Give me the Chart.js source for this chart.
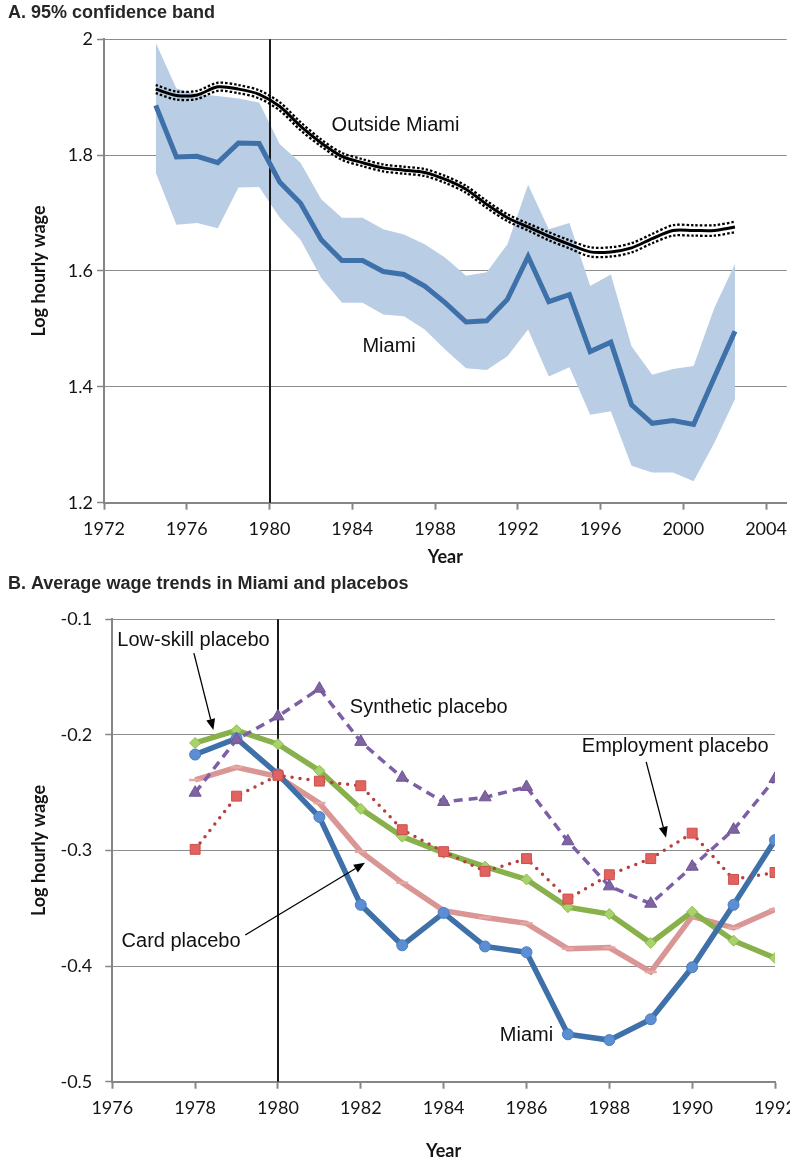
<!DOCTYPE html>
<html>
<head>
<meta charset="utf-8">
<title>Miami wages</title>
<script src="https://cdn.jsdelivr.net/npm/chart.js@4.4.1/dist/chart.umd.min.js"></script>
<style>
  html, body { margin: 0; padding: 0; background: #fff; overflow: hidden; width: 790px; height: 1163px; }
  .panel { position: absolute; left: 0; width: 790px; }
  #wrapA { top: 0; height: 570px; }
  #wrapB { top: 570px; height: 593px; }
</style>
</head>
<body>
<div class="panel" id="wrapA"><canvas id="chartA"></canvas></div>
<div class="panel" id="wrapB"><canvas id="chartB"></canvas></div>
<script>
// ---------- Panel A: Miami log wage with 95% band vs. outside Miami ----------
const yearsA = [1974.5, 1975.5, 1976.5, 1977.5, 1978.5, 1979.5, 1980.5, 1981.5, 1982.5, 1983.5,
                1984.5, 1985.5, 1986.5, 1987.5, 1988.5, 1989.5, 1990.5, 1991.5, 1992.5, 1993.5,
                1994.5, 1995.5, 1996.5, 1997.5, 1998.5, 1999.5, 2000.5, 2001.5, 2002.5];
const miamiA = [1.886, 1.797, 1.798, 1.787, 1.821, 1.820, 1.753, 1.717, 1.654, 1.618,
                1.618, 1.599, 1.594, 1.574, 1.545, 1.512, 1.514, 1.551, 1.625, 1.547,
                1.559, 1.461, 1.477, 1.369, 1.337, 1.342, 1.335, 1.416, 1.496];
const miamiUpper = [1.994, 1.915, 1.905, 1.902, 1.898, 1.891, 1.819, 1.787, 1.724, 1.692,
                    1.692, 1.672, 1.663, 1.646, 1.623, 1.592, 1.598, 1.646, 1.749, 1.672,
                    1.683, 1.574, 1.594, 1.470, 1.421, 1.431, 1.436, 1.536, 1.612];
const miamiLower = [1.770, 1.680, 1.683, 1.674, 1.744, 1.745, 1.692, 1.654, 1.588, 1.545,
                    1.545, 1.525, 1.522, 1.499, 1.464, 1.432, 1.429, 1.453, 1.499, 1.418,
                    1.434, 1.352, 1.358, 1.264, 1.252, 1.252, 1.237, 1.303, 1.379];
const outsideA = [1.914, 1.903, 1.904, 1.918, 1.914, 1.905, 1.884, 1.850, 1.821, 1.798,
                  1.787, 1.778, 1.774, 1.770, 1.758, 1.741, 1.715, 1.692, 1.676, 1.660,
                  1.646, 1.633, 1.633, 1.640, 1.656, 1.670, 1.670, 1.670, 1.676];
const outsideUpper = [1.921, 1.910, 1.911, 1.925, 1.921, 1.912, 1.891, 1.857, 1.827, 1.804,
                      1.793, 1.784, 1.780, 1.776, 1.764, 1.747, 1.721, 1.698, 1.682, 1.667,
                      1.653, 1.641, 1.641, 1.648, 1.664, 1.679, 1.679, 1.679, 1.685];
const outsideLower = [1.907, 1.896, 1.897, 1.911, 1.907, 1.898, 1.877, 1.843, 1.815, 1.792,
                      1.781, 1.772, 1.768, 1.764, 1.752, 1.735, 1.709, 1.686, 1.670, 1.653,
                      1.639, 1.625, 1.625, 1.632, 1.648, 1.661, 1.661, 1.661, 1.667];
const xTicksA = [1972, 1976, 1980, 1984, 1988, 1992, 1996, 2000, 2004];
const xTickLabelsA = ['1972', '1976', '1980', '1984', '1988', '1992', '1996', '2000', '2004'];
const yTicksA = [1.2, 1.4, 1.6, 1.8, 2.0];
const yTickLabelsA = ['1.2', '1.4', '1.6', '1.8', '2'];

// ---------- Panel B: Miami and placebo wage trends ----------
const yearsB = [1978, 1979, 1980, 1981, 1982, 1983, 1984, 1985, 1986, 1987, 1988, 1989, 1990, 1991, 1992];
const miamiB      = [-0.217, -0.203, -0.234, -0.271, -0.347, -0.382, -0.354, -0.383, -0.388, -0.459, -0.464, -0.446, -0.401, -0.347, -0.291];
const lowSkillB   = [-0.207, -0.196, -0.208, -0.231, -0.264, -0.288, -0.302, -0.314, -0.325, -0.349, -0.355, -0.380, -0.353, -0.378, -0.393];
const cardB       = [-0.239, -0.228, -0.236, -0.259, -0.301, -0.328, -0.352, -0.358, -0.363, -0.385, -0.384, -0.405, -0.357, -0.367, -0.351];
const employmentB = [-0.299, -0.253, -0.235, -0.240, -0.244, -0.282, -0.301, -0.318, -0.307, -0.342, -0.321, -0.307, -0.285, -0.325, -0.319];
const syntheticB  = [-0.250, -0.204, -0.184, -0.160, -0.206, -0.237, -0.258, -0.254, -0.245, -0.292, -0.331, -0.346, -0.314, -0.282, -0.238];
const xTicksB = [1976, 1978, 1980, 1982, 1984, 1986, 1988, 1990, 1992];
const xTickLabelsB = ['1976', '1978', '1980', '1982', '1984', '1986', '1988', '1990', '1992'];
const yTicksB = [-0.5, -0.4, -0.3, -0.2, -0.1];
const yTickLabelsB = ['-0.5', '-0.4', '-0.3', '-0.2', '-0.1'];

const boatliftYear = 1980;

// ---------- shared styling ----------
const tickFont = { family: 'Lato, "Open Sans", sans-serif', size: 18 };
const axisTitleFont = { family: 'Lato, "Open Sans", sans-serif', size: 18, weight: 'bold' };
const labelFont = '20px "Liberation Sans", Arial, sans-serif';
const headFont = 'bold 18px "Liberation Sans", Arial, sans-serif';
const axisGrey = '#868686';
const gridGrey = '#8c8c8c';
const textColor = '#141414';

const pts = (xs, ys) => xs.map((x, i) => ({ x, y: ys[i] }));

function drawArrow(ctx, x1, y1, x2, y2) {
  const ang = Math.atan2(y2 - y1, x2 - x1);
  const head = 11, half = 4.5;
  const bx = x2 - head * Math.cos(ang), by = y2 - head * Math.sin(ang);
  ctx.save();
  ctx.strokeStyle = '#000';
  ctx.fillStyle = '#000';
  ctx.lineWidth = 1.3;
  ctx.beginPath();
  ctx.moveTo(x1, y1);
  ctx.lineTo(bx, by);
  ctx.stroke();
  ctx.beginPath();
  ctx.moveTo(x2, y2);
  ctx.lineTo(bx - half * Math.sin(ang), by + half * Math.cos(ang));
  ctx.lineTo(bx + half * Math.sin(ang), by - half * Math.cos(ang));
  ctx.closePath();
  ctx.fill();
  ctx.restore();
}

// Heading, the 1980 marker line, text labels and arrows for one panel
function makeDecor(cfg) {
  function eventLine(chart) {
    const { ctx, chartArea, scales } = chart;
    const x = Math.round(scales.x.getPixelForValue(boatliftYear));
    ctx.save();
    ctx.strokeStyle = '#1a1a1a';
    ctx.lineWidth = 2;
    ctx.beginPath();
    ctx.moveTo(x, chartArea.top);
    ctx.lineTo(x, chartArea.bottom);
    ctx.stroke();
    ctx.restore();
  }
  return {
    id: 'decor' + cfg.key,
    beforeDatasetsDraw(chart) {
      if (cfg.lineAfterIndex == null) eventLine(chart);
    },
    afterDatasetDraw(chart, args) {
      if (cfg.lineAfterIndex != null && args.index === cfg.lineAfterIndex) eventLine(chart);
    },
    afterDraw(chart) {
      const { ctx, scales } = chart;
      ctx.save();
      ctx.fillStyle = '#262626';
      ctx.font = headFont;
      ctx.textAlign = 'left';
      ctx.textBaseline = 'middle';
      ctx.fillText(cfg.heading, 8, cfg.headingY);
      ctx.fillStyle = '#111';
      ctx.font = labelFont;
      ctx.textAlign = 'center';
      cfg.labels.forEach(l => {
        ctx.fillText(l.text, scales.x.getPixelForValue(l.x), scales.y.getPixelForValue(l.y));
      });
      ctx.restore();
      (cfg.arrows || []).forEach(a => {
        drawArrow(ctx,
          scales.x.getPixelForValue(a.from[0]), scales.y.getPixelForValue(a.from[1]),
          scales.x.getPixelForValue(a.to[0]), scales.y.getPixelForValue(a.to[1]));
      });
    }
  };
}

function axes(o) {
  return {
    x: {
      type: 'linear', min: o.xMin, max: o.xMax,
      afterBuildTicks: s => { s.ticks = o.xTicks.map(v => ({ value: v })); },
      ticks: { callback: (v, i) => o.xLabels[i], font: tickFont, color: textColor, padding: 9, maxRotation: 0, autoSkip: false },
      grid: { drawOnChartArea: false, drawTicks: true, tickLength: 7, tickWidth: 2, tickColor: axisGrey },
      border: { display: true, color: axisGrey, width: 2 },
      title: { display: true, text: 'Year', font: axisTitleFont, color: textColor, padding: { top: 0, bottom: o.yearPad } },
      afterFit: s => { s.height = o.xHeight; s.paddingLeft = 0; s.paddingRight = 0; }
    },
    y: {
      type: 'linear', min: o.yMin, max: o.yMax,
      afterBuildTicks: s => { s.ticks = o.yTicks.map(v => ({ value: v })); },
      ticks: { callback: (v, i) => o.yLabels[i], font: tickFont, color: textColor, padding: o.yPad },
      grid: { color: gridGrey, lineWidth: 1, tickLength: 7, tickWidth: 1.5, tickColor: axisGrey },
      border: { display: true, color: axisGrey, width: 2 },
      title: { display: true, text: 'Log hourly wage', font: axisTitleFont, color: textColor, padding: { top: 28.7, bottom: 0 } },
      afterFit: s => { s.width = o.yWidth; s.paddingTop = 0; s.paddingBottom = 0; }
    }
  };
}

const commonOpts = {
  responsive: true,
  maintainAspectRatio: false,
  animation: false,
  events: [],
  plugins: { legend: { display: false }, tooltip: { enabled: false } }
};

// ---------- Chart A ----------
new Chart(document.getElementById('chartA'), {
  type: 'line',
  data: {
    datasets: [
      { data: pts(yearsA, outsideA), borderColor: '#000', borderWidth: 3, tension: 0.3, pointRadius: 0, fill: false },
      { data: pts(yearsA, outsideUpper), borderColor: '#000', borderWidth: 2.3, borderDash: [2.5, 2], tension: 0.3, pointRadius: 0, fill: false },
      { data: pts(yearsA, outsideLower), borderColor: '#000', borderWidth: 2.3, borderDash: [2.5, 2], tension: 0.3, pointRadius: 0, fill: false },
      { data: pts(yearsA, miamiA), borderColor: '#3E70AA', borderWidth: 5, tension: 0, pointRadius: 0, fill: false },
      { data: pts(yearsA, miamiUpper), borderColor: 'rgba(0,0,0,0)', borderWidth: 0.01, backgroundColor: '#B9CDE5', pointRadius: 0, tension: 0, fill: '+1' },
      { data: pts(yearsA, miamiLower), borderColor: 'rgba(0,0,0,0)', borderWidth: 0.01, pointRadius: 0, tension: 0, fill: false }
    ]
  },
  options: Object.assign({}, commonOpts, {
    layout: { padding: { top: 39.3, right: 3.3, left: 0, bottom: 0 } },
    scales: axes({
      xMin: 1972, xMax: 2005, xTicks: xTicksA, xLabels: xTickLabelsA, xHeight: 67.3, yearPad: 2.3,
      yMin: 1.2, yMax: 2.0, yTicks: yTicksA, yLabels: yTickLabelsA, yPad: 4, yWidth: 104
    })
  }),
  plugins: [makeDecor({
    key: 'A',
    heading: 'A. 95% confidence band',
    headingY: 13.5,
    lineAfterIndex: 4,
    labels: [
      { text: 'Outside Miami', x: 1986.09, y: 1.851 },
      { text: 'Miami', x: 1985.78, y: 1.4695 }
    ]
  })]
});

// ---------- Chart B ----------
new Chart(document.getElementById('chartB'), {
  type: 'line',
  data: {
    datasets: [
      { label: 'Synthetic placebo', data: pts(yearsB, syntheticB), borderColor: '#7D5FA8', borderWidth: 3.5, borderDash: [9, 6],
        pointStyle: 'triangle', pointRadius: 7, pointBackgroundColor: '#8064A2', pointBorderColor: '#6E5494', pointBorderWidth: 1, tension: 0, fill: false },
      { label: 'Employment placebo', data: pts(yearsB, employmentB), borderColor: '#B4413E', borderWidth: 3.5, borderDash: [0, 8], borderCapStyle: 'round',
        pointStyle: 'rect', pointRadius: 7, pointBackgroundColor: '#E2625E', pointBorderColor: '#C9504D', pointBorderWidth: 1, tension: 0, fill: false },
      { label: 'Miami', data: pts(yearsB, miamiB), borderColor: '#3E70AA', borderWidth: 5.5,
        pointStyle: 'circle', pointRadius: 5.5, pointBackgroundColor: '#5C8ED3', pointBorderColor: '#4A7DBF', pointBorderWidth: 1, tension: 0, fill: false },
      { label: 'Low-skill placebo', data: pts(yearsB, lowSkillB), borderColor: '#88B04B', borderWidth: 5.5,
        pointStyle: 'rectRot', pointRadius: 5.5, pointBackgroundColor: '#A8D26B', pointBorderColor: '#8DBE4C', pointBorderWidth: 1, tension: 0, fill: false },
      { label: 'Card placebo', data: pts(yearsB, cardB), borderColor: '#D99694', borderWidth: 5.5,
        pointStyle: 'line', pointRadius: 6, pointBorderColor: '#E6A7A5', pointBorderWidth: 2.5, tension: 0, fill: false }
    ]
  },
  options: Object.assign({}, commonOpts, {
    layout: { padding: { top: 49.3, right: 15, left: 0, bottom: 0 } },
    scales: axes({
      xMin: 1976, xMax: 1992, xTicks: xTicksB, xLabels: xTickLabelsB, xHeight: 81.3, yearPad: 1,
      yMin: -0.5, yMax: -0.1, yTicks: yTicksB, yLabels: yTickLabelsB, yPad: 13, yWidth: 112.3
    })
  }),
  plugins: [makeDecor({
    key: 'B',
    heading: 'B. Average wage trends in Miami and placebos',
    headingY: 14,
    lineAfterIndex: null,
    labels: [
      { text: 'Low-skill placebo', x: 1977.96, y: -0.118 },
      { text: 'Synthetic placebo', x: 1983.64, y: -0.1765 },
      { text: 'Employment placebo', x: 1989.59, y: -0.2103 },
      { text: 'Card placebo', x: 1977.66, y: -0.379 },
      { text: 'Miami', x: 1986.0, y: -0.46 }
    ],
    arrows: [
      { from: [1977.97, -0.1292], to: [1978.44, -0.1958] },
      { from: [1988.89, -0.2233], to: [1989.37, -0.2890] },
      { from: [1979.21, -0.3731], to: [1982.10, -0.3107] }
    ]
  })]
});
</script>
</body>
</html>
